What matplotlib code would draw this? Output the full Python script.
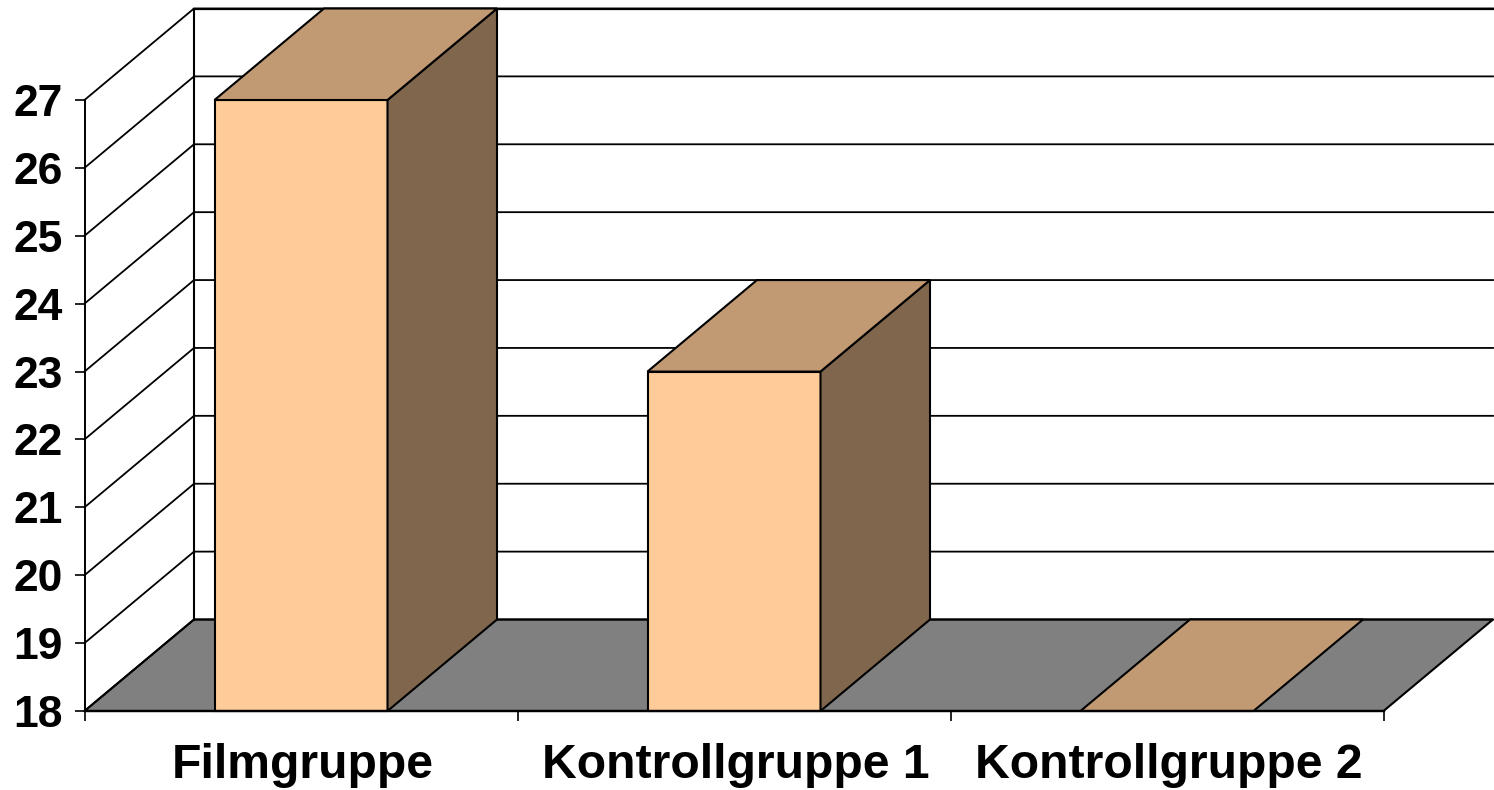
import matplotlib
matplotlib.use("Agg")
import matplotlib.pyplot as plt
from matplotlib.patches import Polygon
from matplotlib.transforms import ScaledTranslation

categories = ["Filmgruppe", "Kontrollgruppe 1", "Kontrollgruppe 2"]
values = [27, 23, 18]
y_ticks = [18, 19, 20, 21, 22, 23, 24, 25, 26, 27]

W, H = 1494, 790
LEFT, RIGHT, TOP, BOTTOM = 84.5, 1383.5, 100, 711
fig = plt.figure(figsize=(W / 100, H / 100), dpi=100, facecolor="white")
ax = fig.add_axes([LEFT / W, 1 - BOTTOM / H, (RIGHT - LEFT) / W, (BOTTOM - TOP) / H])
ax.set_xlim(0, len(categories))
ax.set_ylim(y_ticks[0], y_ticks[-1])
ax.patch.set_visible(False)

unit_x = (RIGHT - LEFT) / len(categories)
unit_y = (BOTTOM - TOP) / (y_ticks[-1] - y_ticks[0])
DX = 109.5 / unit_x
DY = 91.5 / unit_y
bar_w = 173 / unit_x
lw = 1.3
ymin, xmax = y_ticks[0], len(categories)
kw = dict(edgecolor="black", linewidth=1.5, clip_on=False, joinstyle="miter")

# floor
ax.add_patch(Polygon([(0, ymin), (xmax, ymin), (xmax + DX, ymin + DY), (DX, ymin + DY)],
                     facecolor="#808080", zorder=1, **kw))
# walls and gridlines
for v in y_ticks:
    ax.plot([0, DX, xmax + DX], [v, v + DY, v + DY], color="black", lw=lw,
            clip_on=False, zorder=1.5, solid_capstyle="projecting")
ax.plot([DX, DX], [ymin + DY, y_ticks[-1] + DY], color="black", lw=1.5, clip_on=False, zorder=1.5)
ax.plot([DX, xmax + DX], [y_ticks[-1] + DY] * 2, color="black", lw=1.6, clip_on=False, zorder=1.6)

# bars
for i, v in enumerate(values):
    x0 = i + 0.5 - bar_w / 2
    x1 = x0 + bar_w
    if v > ymin:
        ax.add_patch(Polygon([(x0, ymin), (x1, ymin), (x1, v), (x0, v)],
                             facecolor="#FFCC99", zorder=3, **kw))
        ax.add_patch(Polygon([(x1, ymin), (x1 + DX, ymin + DY), (x1 + DX, v + DY), (x1, v)],
                             facecolor="#80664D", zorder=3, **kw))
    ax.add_patch(Polygon([(x0, v), (x1, v), (x1 + DX, v + DY), (x0 + DX, v + DY)],
                         facecolor="#C19A73", zorder=3, **kw))

for s in ("top", "right"):
    ax.spines[s].set_visible(False)
ax.spines["left"].set_linewidth(1.4)
ax.spines["bottom"].set_linewidth(1.7)
for s in ("left", "bottom"):
    ax.spines[s].set_zorder(4)

font = dict(family="Liberation Sans", fontweight="bold")
ax.set_yticks(y_ticks)
ax.set_yticklabels([str(v) for v in y_ticks], fontsize=32, **font)
ax.tick_params(axis="y", length=7.5, width=1.2, pad=8)
ax.set_xticks(range(len(categories) + 1))
ax.set_xticklabels([])
ax.tick_params(axis="x", which="major", length=7.5, width=1.2)
ax.set_xticks([i + 0.5 for i in range(len(categories))], minor=True)
ax.set_xticklabels(categories, minor=True, fontsize=34.7, **font)
ax.tick_params(axis="x", which="minor", length=0, pad=23)
shift = ScaledTranslation(1.5 / 100, 0, fig.dpi_scale_trans)
for lab in ax.get_xticklabels(minor=True):
    lab.set_transform(lab.get_transform() + shift)

fig.savefig("out.png", dpi=100, facecolor="white")
